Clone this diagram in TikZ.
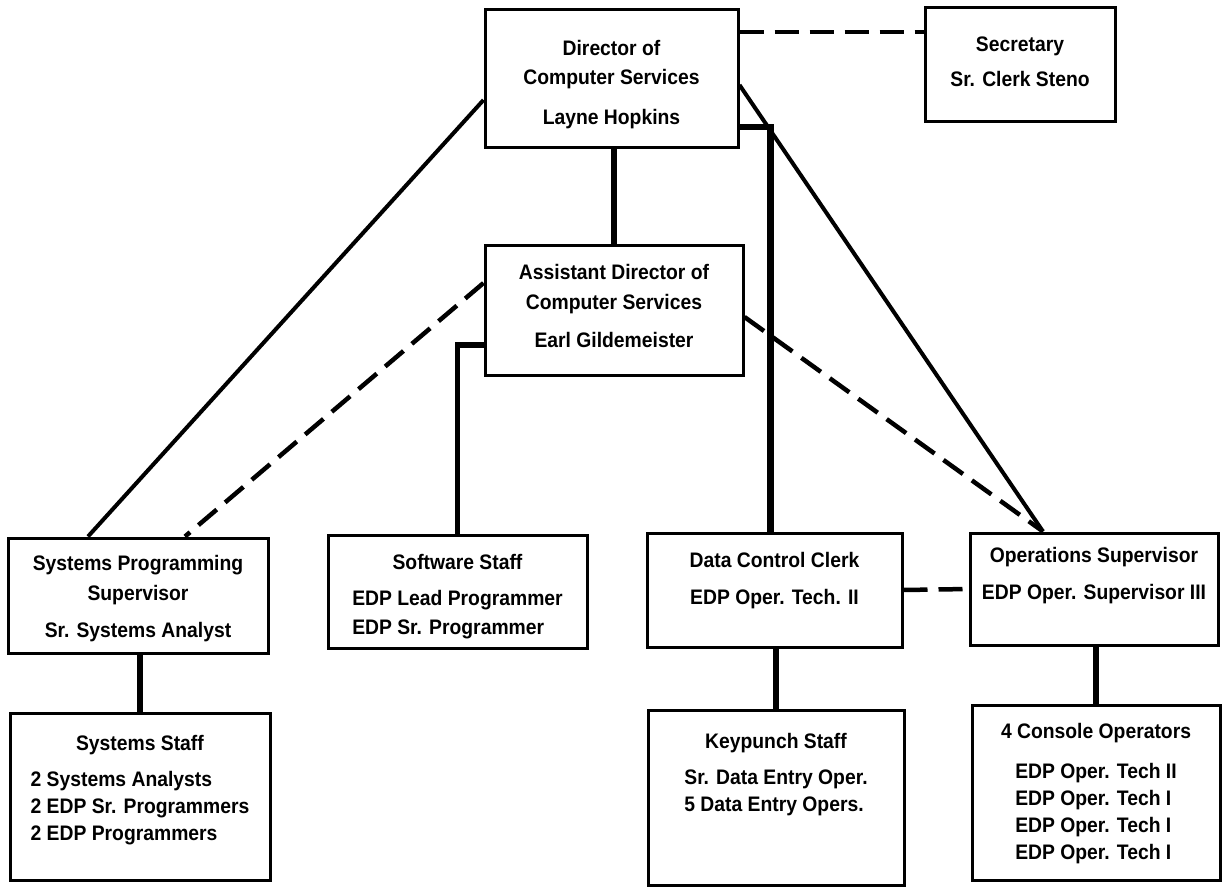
\documentclass[tikz,border=0pt]{standalone}
\usepackage{fontspec}
\setmainfont{Liberation Sans}[FakeStretch=0.92]
\usetikzlibrary{calc}
\begin{document}
\begin{tikzpicture}[x=1pt,y=-1pt,
  box/.style={draw, line width=3pt, inner sep=0pt},
  txt/.style={inner sep=0pt, align=center, anchor=north, font=\fontsize{21}{27}\selectfont\bfseries},
  solidline/.style={line width=4pt},
  thickline/.style={line width=6.5pt},
  midline/.style={line width=5.5pt},
  dashline/.style={line width=4.5pt, dash pattern=on 24pt off 11pt}]
\useasboundingbox (0,0) rectangle (1225,896);

% boxes
\node[box, minimum width=253pt, minimum height=138pt] (dir) at (611.5,79) {};
\node[box, minimum width=190pt, minimum height=114pt] (sec) at (1020,65) {};
\node[box, minimum width=258pt, minimum height=130pt] (asst) at (614,310) {};
\node[box, minimum width=260pt, minimum height=115pt] (sps) at (138,595.5) {};
\node[box, minimum width=259pt, minimum height=113pt] (sw) at (457.5,591.5) {};
\node[box, minimum width=255pt, minimum height=114pt] (dcc) at (774.5,590) {};
\node[box, minimum width=248pt, minimum height=112pt] (ops) at (1094,589) {};
\node[box, minimum width=260pt, minimum height=167pt] (ss) at (140,796.5) {};
\node[box, minimum width=256pt, minimum height=175pt] (kp) at (776,797.5) {};
\node[box, minimum width=248pt, minimum height=175pt] (con) at (1096,792.5) {};

% texts
\node[txt] (dirT) at (611.5,40) {Director of\\[2pt]Computer Services\\[13pt]Layne Hopkins};
\node[txt] (secT) at (1020,37) {Secretary\\[8pt]Sr. Clerk Steno};
\node[txt] (asstT) at (614,264) {Assistant Director of\\[3pt]Computer Services\\[11pt]Earl Gildemeister};
\node[txt] (spsT) at (138,555) {Systems Programming\\[3pt]Supervisor\\[10pt]Sr. Systems Analyst};
\node[txt] (swT) at (457.5,554) {Software Staff\\[9pt]\begin{tabular}[t]{@{}l@{}}EDP Lead Programmer\\[2pt]EDP Sr. Programmer\end{tabular}};
\node[txt] (dccT) at (774.5,552) {Data Control Clerk\\[10pt]EDP Oper. Tech. II};
\node[txt] (opsT) at (1094,547) {Operations Supervisor\\[10pt]EDP Oper. Supervisor III};
\node[txt] (ssT) at (140,735) {Systems Staff\\[9pt]\begin{tabular}[t]{@{}l@{}}2 Systems Analysts\\2 EDP Sr. Programmers\\2 EDP Programmers\end{tabular}};
\node[txt] (kpT) at (776,733) {Keypunch Staff\\[9pt]\begin{tabular}[t]{@{}l@{}}Sr. Data Entry Oper.\\5 Data Entry Opers.\end{tabular}};
\node[txt] (conT) at (1096,723) {4 Console Operators\\[13pt]\begin{tabular}[t]{@{}l@{}}EDP Oper. Tech II\\EDP Oper. Tech I\\EDP Oper. Tech I\\EDP Oper. Tech I\end{tabular}};

% connectors
\draw[solidline] ($(dir.west)+(0,21)$) -- ($(sps.north)+(-50,0)$);
\draw[solidline] ($(dir.east)+(0,6)$) -- ($(ops.north)+(-51,0)$);
\draw[dashline] ($(dir.east)+(0,-47)$) -- ($(sec.west)+(0,-33)$);
\draw[thickline] ($(dcc.north)+(-4,0)$) |- ($(dir.east)+(0,48)$);
\draw[midline] (asst.north) -- (asst.north |- dir.south);
\draw[dashline] ($(asst.west)+(0,-27)$) -- ($(sps.north)+(47,0)$);
\draw[dashline] ($(asst.east)+(0,7)$) -- ($(ops.north)+(-51,0)$);
\draw[midline] (sw.north) |- ($(asst.west)+(0,35)$);
\draw[dashline] (dcc.east) -- (ops.west);
\draw[thickline] (ss.north) -- (ss.north |- sps.south);
\draw[thickline] (kp.north) -- (kp.north |- dcc.south);
\draw[thickline] (con.north) -- (con.north |- ops.south);
\end{tikzpicture}
\end{document}
